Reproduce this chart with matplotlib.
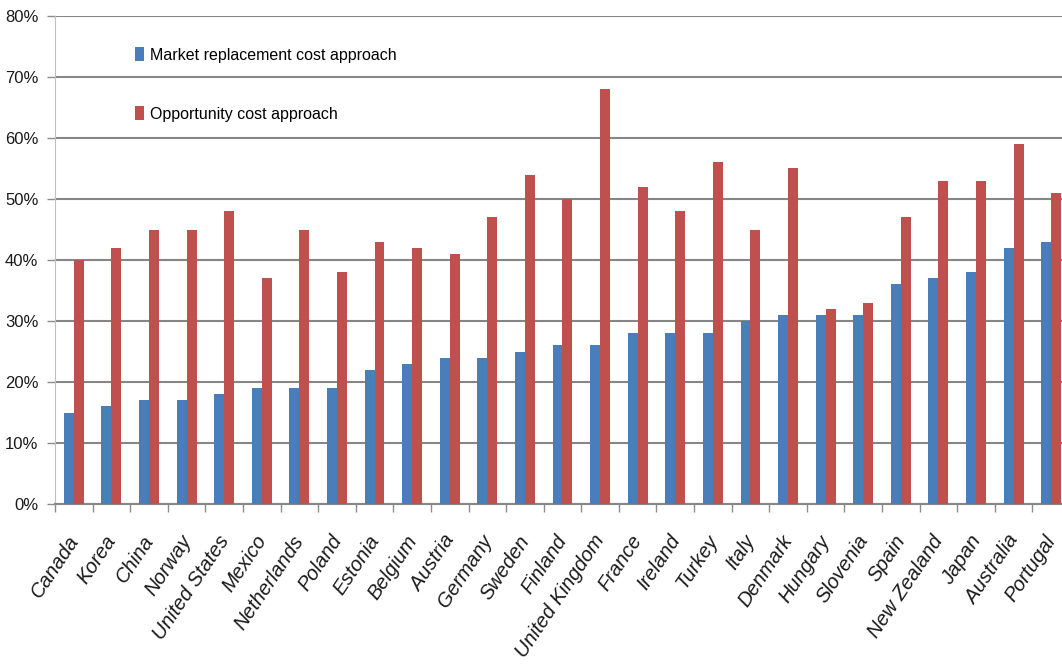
import numpy as np
import matplotlib
matplotlib.use('Agg')
import matplotlib.pyplot as plt
from matplotlib.ticker import FixedLocator, PercentFormatter

countries = ['Canada', 'Korea', 'China', 'Norway', 'United States', 'Mexico',
             'Netherlands', 'Poland', 'Estonia', 'Belgium', 'Austria', 'Germany',
             'Sweden', 'Finland', 'United Kingdom', 'France', 'Ireland', 'Turkey',
             'Italy', 'Denmark', 'Hungary', 'Slovenia', 'Spain', 'New Zealand',
             'Japan', 'Australia', 'Portugal']
market = [15, 16, 17, 17, 18, 19, 19, 19, 22, 23, 24, 24, 25, 26, 26, 28, 28, 28,
          30, 31, 31, 31, 36, 37, 38, 42, 43]
opportunity = [40, 42, 45, 45, 48, 37, 45, 38, 43, 42, 41, 47, 54, 50, 68, 52, 48,
               56, 45, 55, 32, 33, 47, 53, 53, 59, 51]

plt.rcParams['font.family'] = ['Liberation Sans', 'DejaVu Sans']

W, H = 1062, 664
fig = plt.figure(figsize=(W / 100, H / 100), dpi=100)
# axes runs off the right edge like the cropped original
ax = fig.add_axes([55 / W, 160 / H, 1015 / W, 488 / H])

x = np.arange(len(countries))
bw = 0.265
ax.bar(x - bw / 2, market, bw, color='#4A7EBB', label='Market replacement cost approach', zorder=3)
ax.bar(x + bw / 2, opportunity, bw, color='#C0504D', label='Opportunity cost approach', zorder=3)

ax.set_xlim(-0.5, len(countries) - 0.5)
ax.set_ylim(0, 80)
ax.yaxis.set_major_locator(FixedLocator(range(0, 81, 10)))
ax.yaxis.set_major_formatter(PercentFormatter(decimals=0))
ax.grid(axis='y', color='#868686', linewidth=1.5, zorder=0)

# labels sit a little left of the group centre (major ticks are invisible)
ax.set_xticks(x - 0.19)
ax.set_xticklabels(countries, rotation=56, ha='right', va='top', rotation_mode='anchor',
                   fontsize=14.5, style='italic', color='#1a1a1a')
ax.xaxis.set_minor_locator(FixedLocator(np.arange(-0.5, len(countries), 1)))
ax.tick_params(axis='x', which='major', length=0, pad=20)
ax.tick_params(axis='x', which='minor', length=6, color='#8c8c8c', width=1)
ax.tick_params(axis='y', length=6, color='#8c8c8c', width=1, labelsize=12, pad=6,
               labelcolor='#1a1a1a')

for s in ['top', 'right']:
    ax.spines[s].set_visible(False)
ax.spines['left'].set_color('#bfbfbf')
ax.spines['bottom'].set_color('#868686')
ax.spines['bottom'].set_linewidth(1.5)

ax.legend(loc='upper left', bbox_to_anchor=(121 / W, 1 - 33 / H), bbox_transform=fig.transFigure,
          frameon=False, fontsize=11.5, handlelength=0.55, handleheight=0.9,
          handletextpad=0.35, labelspacing=2.75)

fig.savefig('out.png', dpi=100)
